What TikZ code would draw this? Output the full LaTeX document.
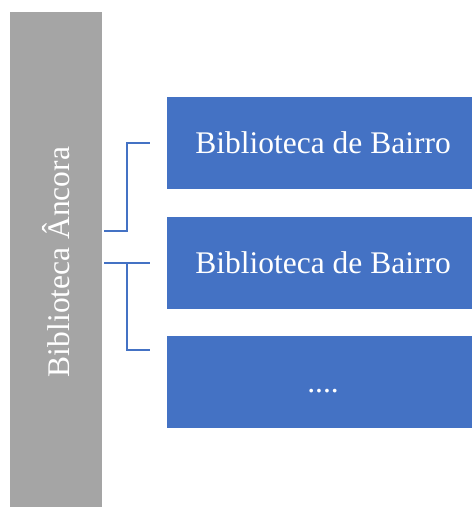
\documentclass[tikz,border=0pt]{standalone}
\usepackage{fontspec}
\setmainfont{Liberation Serif}
\definecolor{boxblue}{HTML}{4472C4}
\definecolor{bargray}{HTML}{A5A5A5}
\begin{document}
\begin{tikzpicture}[x=1pt,y=-1pt,
  bluebox/.style={fill=boxblue,draw=none,minimum width=305pt,minimum height=92pt,inner sep=0pt},
  lbl/.style={text=white,font=\fontsize{31.5}{36}\selectfont},
  conn/.style={draw=boxblue,line width=2pt}]
\useasboundingbox (0,0) rectangle (472,507);
\fill[bargray] (10,12) rectangle (102,507);
\node[lbl,rotate=90] (anchor) at (56,262) {Biblioteca Âncora};
\node[bluebox,anchor=north west] (b1) at (167,97) {};
\node[bluebox,anchor=north west] (b2) at (167,217) {};
\node[bluebox,anchor=north west] (b3) at (167,336) {};
\node[lbl] (t1) at (323,143) {Biblioteca de Bairro};
\node[lbl] (t2) at (323,263) {Biblioteca de Bairro};
\node[lbl,anchor=base] (t3) at (323,392) {....};
\coordinate (c1s) at (104,231);
\coordinate (c1m) at (127,231);
\coordinate (c1t) at (127,143);
\coordinate (c1e) at (150,143);
\coordinate (c2s) at (104,263);
\coordinate (c2e) at (150,263);
\coordinate (c2m) at (127,263);
\coordinate (c2b) at (127,350);
\coordinate (c2f) at (150,350);
\draw[conn] (c1s) -- (c1m) -- (c1t) -- (c1e);
\draw[conn] (c2s) -- (c2e);
\draw[conn] (c2m) -- (c2b) -- (c2f);
\end{tikzpicture}
\end{document}
